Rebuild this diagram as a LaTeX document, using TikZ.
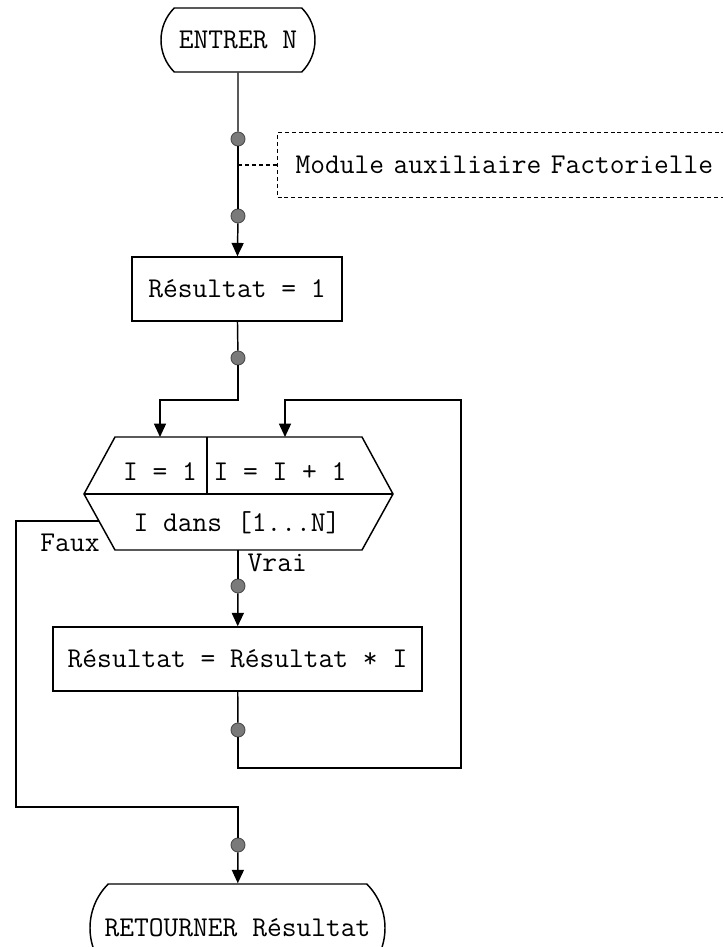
\documentclass[tikz,border=0pt]{standalone}
\usepackage{fontspec}
\usetikzlibrary{shapes.misc,arrows.meta}
\begin{document}
\begin{tikzpicture}[x=0.75pt,y=-0.75pt,
  font=\ttfamily\fontsize{21.5}{23}\selectfont,
  line width=1.1pt,
  term/.style={draw,rounded rectangle,rounded rectangle arc length=90,inner sep=0pt},
  procbox/.style={draw,rectangle,inner sep=0pt},
  dot/.style={circle,fill=black!52,draw=black!70,line width=0.7pt,minimum size=10.5pt,inner sep=0pt},
  arr/.style={-{Triangle[width=9pt,length=10pt]}},
  notebox/.style={draw,dash pattern=on 3pt off 2.2pt,line width=0.8pt,inner xsep=13.5pt,minimum height=48.75pt,text width=400pt,align=left},
  noteline/.style={dash pattern=on 3pt off 2.2pt,line width=0.8pt}]
\useasboundingbox (0,0) rectangle (723,947);
\clip (0,0) rectangle (723,947);
% nodes
\node[term,minimum width=115.5pt,minimum height=48pt] (start) at (238,40) {ENTRER N};
\node[dot] (d1) at (238,139) {};
\node[dot] (d2) at (238,216) {};
\coordinate (nc) at (238,165);
\node[notebox,anchor=west] (note) at (277,165) {Module auxiliaire Factorielle};
\node[procbox,minimum width=157.5pt,minimum height=48pt] (init) at (237,289) {Résultat = 1};
\node[dot] (d3) at (238,358) {};
% loop hexagon
\coordinate (hTL) at (115,437);
\coordinate (hTR) at (362,437);
\coordinate (hR) at (393,494);
\coordinate (hBR) at (362,550);
\coordinate (hBL) at (115,550);
\coordinate (hL) at (84,494);
\coordinate (hD1) at (207,437);
\coordinate (hD2) at (207,494);
\coordinate (hin1) at (160,437);
\coordinate (hin2) at (285,437);
\coordinate (hout) at (238,550);
\coordinate (hf) at (99,521);
\draw (hTL) -- (hTR) -- (hR) -- (hBR) -- (hBL) -- (hL) -- cycle;
\draw (hL) -- (hR);
\draw (hD1) -- (hD2);
\node (ti) at (160,472) {I = 1};
\node (tinc) at (280,472) {I = I + 1};
\node (tcond) at (237,523) {I dans [1...N]};
\node[dot] (d4) at (238,586) {};
\node[procbox,minimum width=276.75pt,minimum height=48pt] (body) at (237.5,659) {Résultat = Résultat * I};
\node[dot] (d5) at (238,730) {};
\node[dot] (d6) at (238,845) {};
\node[term,minimum width=221.25pt,minimum height=66pt] (stop) at (237.5,928) {RETOURNER Résultat};
\node[anchor=west,inner sep=0pt] (vrai) at (247,563) {Vrai};
\node[inner sep=0pt] (faux) at (70,543) {Faux};
% helper coordinates
\coordinate (j1) at (160,400);
\coordinate (lc1) at (461,768);
\coordinate (lc2) at (285,400);
\coordinate (f1) at (16,521);
\coordinate (f2) at (16,807);
% connectors
\draw (start) -- (d1);
\draw (d1) -- (d2);
\draw[noteline] (nc) -- (note.west);
\draw[arr] (d2) -- (init);
\draw (init) -- (d3);
\draw[arr] (d3) |- (j1) -- (hin1);
\draw (hout) -- (d4);
\draw[arr] (d4) -- (body);
\draw (body) -- (d5);
\draw[arr] (d5) |- (lc1) |- (lc2) -- (hin2);
\draw (hf) -- (f1) -- (f2) -| (d6);
\draw[arr] (d6) -- (stop);
\end{tikzpicture}
\end{document}
